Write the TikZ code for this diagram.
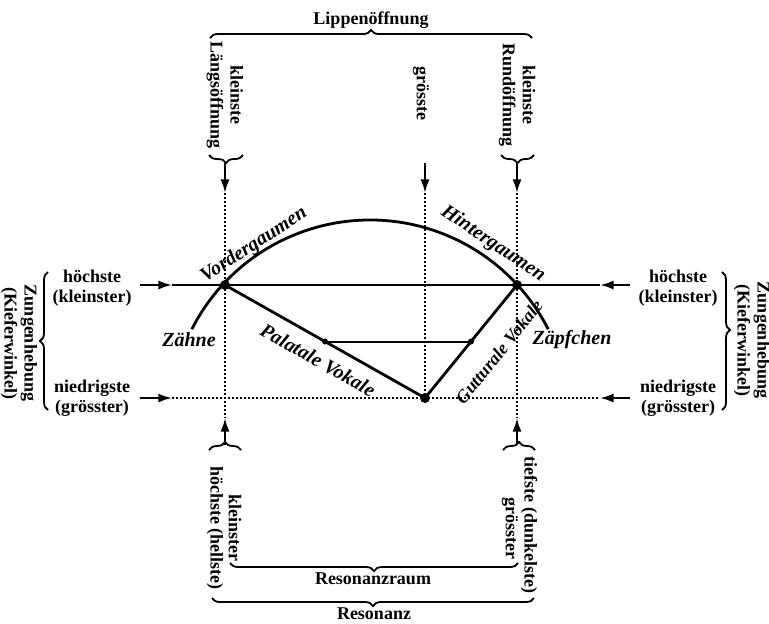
\documentclass[tikz,border=0pt]{standalone}
\usepackage{fontspec}
\setmainfont{Liberation Serif}
\usetikzlibrary{positioning,arrows.meta,decorations.pathreplacing,calc}

\begin{document}
\begin{tikzpicture}[
    x=0.5pt, y=0.5pt,
    txt/.style={
        font=\fontsize{9}{10}\selectfont\bfseries,
        align=center,
        inner sep=1pt
    },
    vtxt/.style={txt, rotate=-90},
    organ/.style={
        font=\fontsize{10}{11}\selectfont\bfseries\itshape,
        inner sep=1pt
    },
    brc/.style={
        decorate,
        decoration={brace, amplitude=4pt},
        line width=0.9pt
    },
    arrow/.style={
        -{Latex[length=2.4mm, width=1.6mm]},
        line width=1.1pt
    },
    guide/.style={densely dotted, line width=1pt},
    tract/.style={line width=1.4pt},
    point/.style={circle, fill, inner sep=0pt, minimum size=5pt}
]
\useasboundingbox (0,0) rectangle (769,-623);

% Key points of the tongue line
\coordinate (front) at (225,-285);
\coordinate (back) at (517,-285);
\coordinate (low) at (425,-398);
\coordinate (palmid) at ($(front)!0.5!(low)$);
\coordinate (gutmid) at ($(low)!0.5!(back)$);
\coordinate (ctr) at (370,-420);

% Top: Lippenoeffnung
\draw[brc] (210,-38) -- (532,-38);
\node[txt] (lip) at (371,-20) {Lippenöffnung};
\node[vtxt] (lipL) at (225,-95) {kleinste\\Längsöffnung};
\node[vtxt] (lipM) at (421,-93) {grösste};
\node[vtxt] (lipR) at (517,-95) {kleinste\\Rundöffnung};
\draw[brc] (243,-155) -- (209,-155);
\draw[brc] (534,-155) -- (501,-155);

\foreach \x/\n in {225/L,425/M,517/R} {
    \coordinate (top\n) at (\x,-163);
    \coordinate (tip\n) at (\x,-193);
    \draw[arrow] (top\n) -- (tip\n);
}

% Bottom arrows
\foreach \x/\n in {225/L,517/R} {
    \coordinate (bot\n) at (\x,-445);
    \coordinate (up\n) at (\x,-418);
    \draw[arrow] (bot\n) -- (up\n);
}

% Dotted guides
\draw[guide] (tipL) -- (upL);
\draw[guide] (tipR) -- (upR);
\draw[guide] (tipM) -- (low);

% Horizontal lines
\coordinate (hiW) at (140,-285);
\coordinate (hiWtip) at (172,-285);
\coordinate (hiE) at (630,-285);
\coordinate (hiEtip) at (600,-285);
\coordinate (loW) at (140,-398);
\coordinate (loWtip) at (172,-398);
\coordinate (loE) at (630,-398);
\coordinate (loEtip) at (600,-398);
\draw[arrow] (hiW) -- (hiWtip);
\draw[line width=1.1pt] (hiWtip) -- (hiEtip);
\draw[arrow] (hiE) -- (hiEtip);
\draw[arrow] (loW) -- (loWtip);
\draw[guide] (loWtip) -- (loEtip);
\draw[arrow] (loE) -- (loEtip);

% Palate arc and vowel lines
\draw[tract] (ctr) ++(153:200) arc[start angle=153, end angle=27, radius=200];
\draw[tract] (front) -- (low) -- (back);
\draw[line width=1pt] (palmid) -- (gutmid);
\node[point] (frontdot) at (front) {};
\node[point] (backdot) at (back) {};
\node[point] (lowdot) at (low) {};
\node[point, minimum size=3pt] (paldot) at (palmid) {};
\node[point, minimum size=3pt] (gutdot) at (gutmid) {};

\node[organ, rotate=33] (vg) at (254,-245) {Vordergaumen};
\node[organ, rotate=-34] (hg) at (493,-244) {Hintergaumen};
\node[organ] (teeth) at (189,-340) {Zähne};
\node[organ] (uvula) at (572,-340) {Zäpfchen};
\node[organ, rotate=-29.5] (pal) at (318,-360) {Palatale Vokale};
\node[organ, font=\fontsize{9}{10}\selectfont\bfseries\itshape, rotate=51] (gut) at (499,-352) {Gutturale Vokale};

% Sides: Zungenhebung
\node[txt] (hiL) at (92,-288) {höchste\\(kleinster)};
\node[txt] (loL) at (92,-398) {niedrigste\\(grösster)};
\node[txt] (hiR) at (678,-288) {höchste\\(kleinster)};
\node[txt] (loR) at (678,-398) {niedrigste\\(grösster)};
\draw[brc] (48,-410) -- (48,-272);
\node[vtxt] (tongueL) at (19,-343) {Zungenhebung\\(Kieferwinkel)};
\draw[brc, decoration={aspect=0.42}] (722,-272) -- (722,-410);
\node[vtxt] (tongueR) at (752,-340) {Zungenhebung\\(Kieferwinkel)};

% Bottom: Resonanz
\draw[brc] (209,-450) -- (241,-450);
\draw[brc] (503,-450) -- (535,-450);
\node[vtxt] (hell) at (215,-528) {höchste (hellste)};
\node[vtxt] (small) at (235,-528) {kleinster};
\node[vtxt] (dark) at (529,-525) {tiefste (dunkelste)};
\node[vtxt] (large) at (510,-528) {grösster};
\draw[brc] (518,-563) -- (230,-563);
\node[txt] (room) at (373,-579) {Resonanzraum};
\draw[brc] (534,-598) -- (212,-598);
\node[txt] (reson) at (374,-614) {Resonanz};

\end{tikzpicture}
\end{document}
